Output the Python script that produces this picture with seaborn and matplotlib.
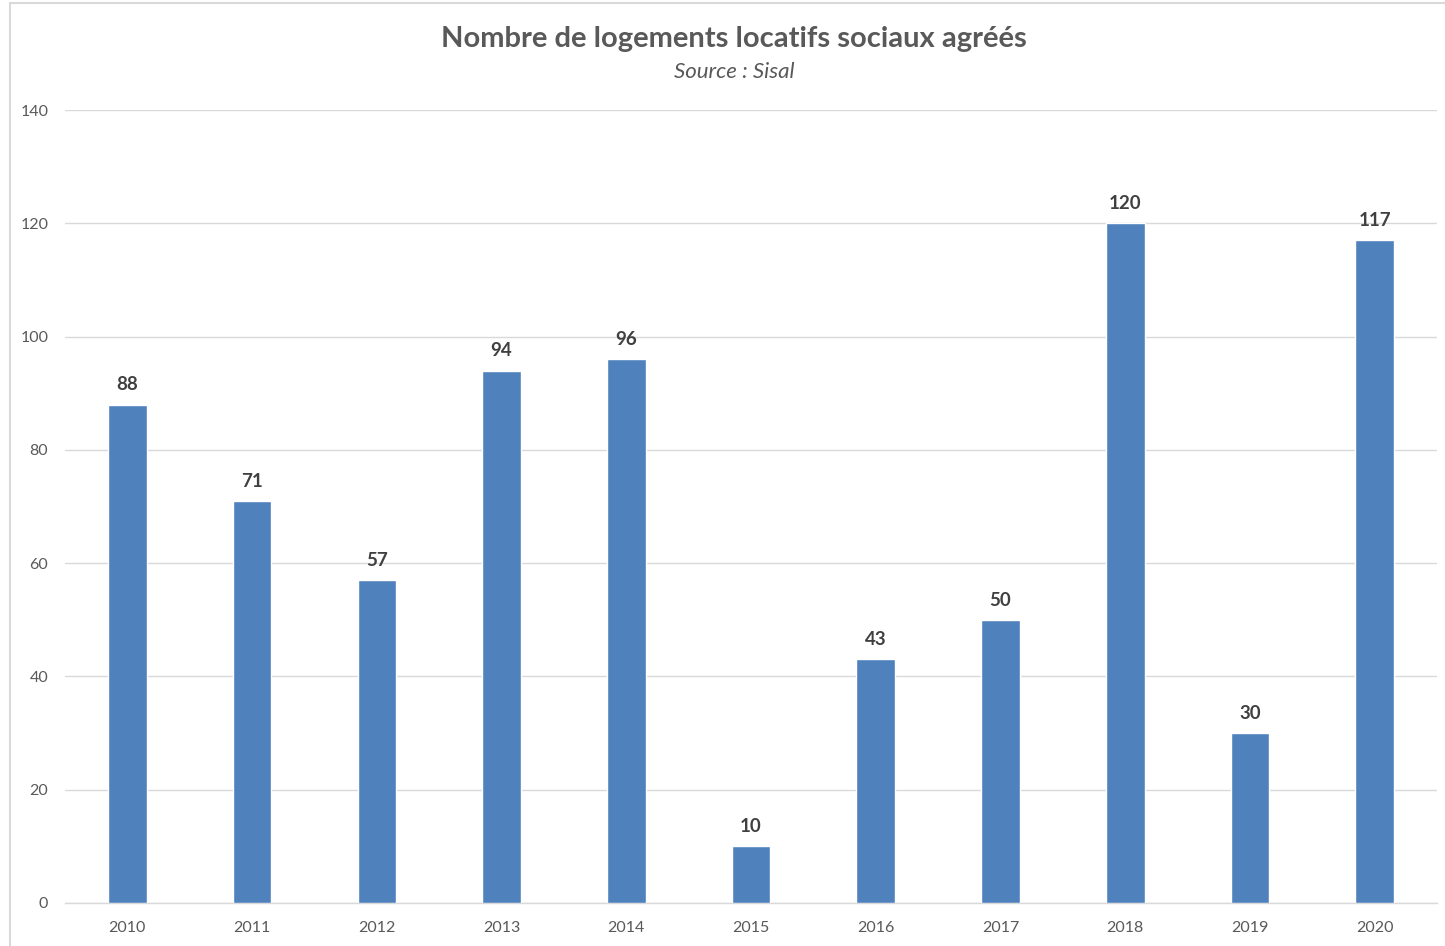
import matplotlib
matplotlib.use("Agg")
import matplotlib.pyplot as plt
import seaborn as sns
import pandas as pd
from matplotlib.patches import Rectangle

# Data
years = ["2010", "2011", "2012", "2013", "2014", "2015", "2016", "2017", "2018", "2019", "2020"]
logements = [88, 71, 57, 94, 96, 10, 43, 50, 120, 30, 117]
y_ticks = [0, 20, 40, 60, 80, 100, 120, 140]

title = "Nombre de logements locatifs sociaux agréés"
subtitle = "Source : Sisal"

sns.set_theme(style="white")
plt.rcParams["font.family"] = ["Lato", "DejaVu Sans"]

df = pd.DataFrame({"annee": years, "logements": logements})

fig = plt.figure(figsize=(14.45, 9.46), dpi=100)
ax = fig.add_axes([0.045, 0.0455, 0.9495, 0.8382])

sns.barplot(data=df, x="annee", y="logements", color="#4F81BD", saturation=1,
            width=0.31, ax=ax, zorder=3)

ax.set_ylim(0, 140)
ax.set_xlim(-0.5, len(years) - 0.5)
ax.set_yticks(y_ticks)
ax.yaxis.grid(True, color="#D9D9D9", linewidth=1, zorder=0)
ax.set_axisbelow(True)
for side in ["top", "right", "left"]:
    ax.spines[side].set_visible(False)
ax.spines["bottom"].set_color("#D9D9D9")
ax.spines["bottom"].set_linewidth(1)
ax.set_xlabel("")
ax.set_ylabel("")
ax.tick_params(axis="both", length=0, labelsize=11.5, colors="#595959")
ax.tick_params(axis="x", pad=13)
ax.tick_params(axis="y", pad=12)

for container in ax.containers:
    ax.bar_label(container, labels=[str(v) for v in logements], padding=8,
                 fontsize=13.5, fontweight="bold", color="#404040")

fig.text(0.508, 0.959, title, ha="center", va="center", fontsize=21,
         fontweight="bold", color="#595959")
fig.text(0.508, 0.924, subtitle, ha="center", va="center", fontsize=16,
         style="italic", color="#595959")

# chart frame
fig.patches.append(Rectangle((10 / 1445, -0.01), 1.02, 1 - 3 / 946 + 0.01,
                             transform=fig.transFigure, fill=False,
                             edgecolor="#D9D9D9", linewidth=1.5))

fig.savefig("out.png", dpi=100, facecolor="white")
